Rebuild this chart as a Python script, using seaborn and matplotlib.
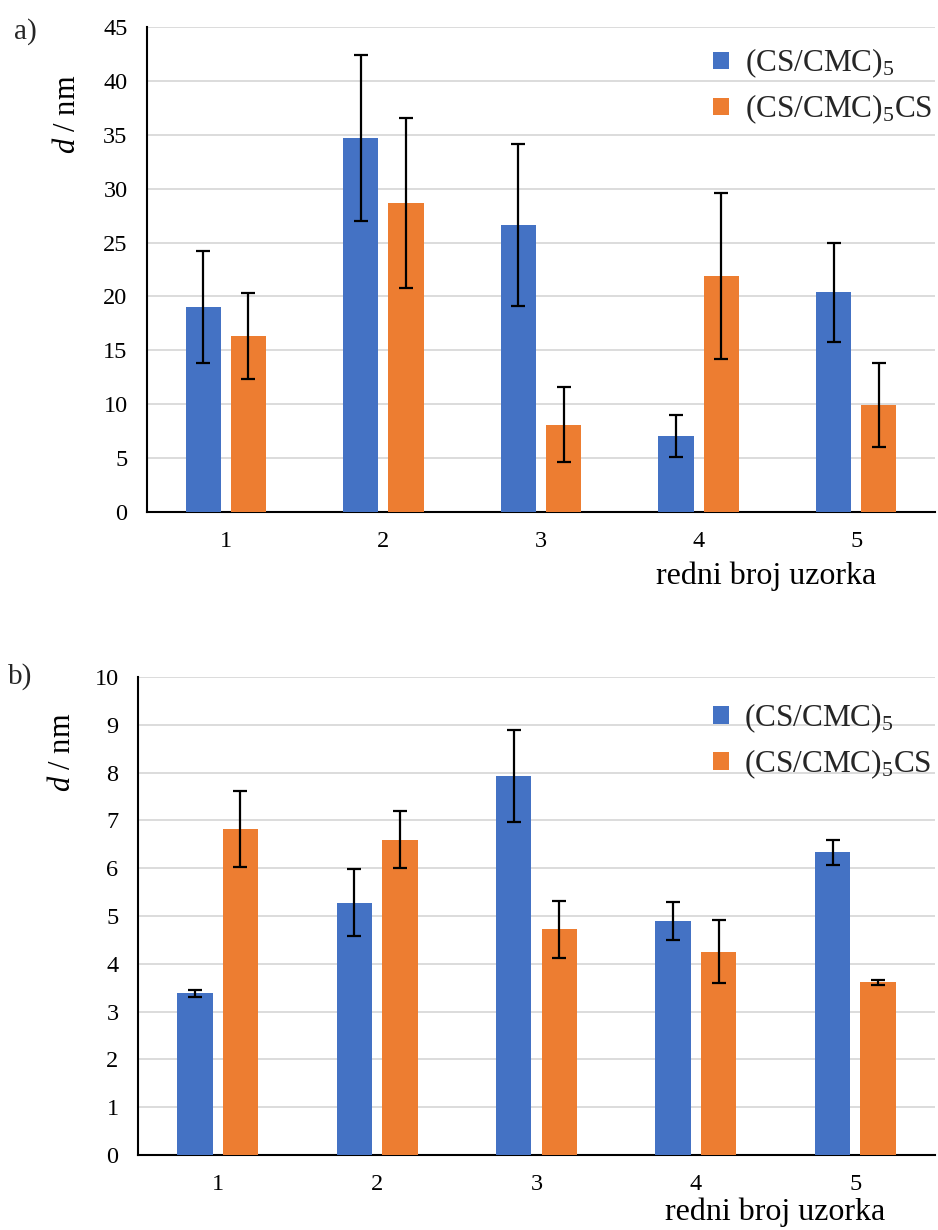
import numpy as np
import pandas as pd
import matplotlib
matplotlib.use("Agg")
import matplotlib.pyplot as plt
import seaborn as sns

# ---- data ----
samples = ["1", "2", "3", "4", "5"]
series_names = ["(CS/CMC)$_\\mathregular{5}$", "(CS/CMC)$_\\mathregular{5}$CS"]

a_cs = [19.0, 34.7, 26.6, 7.05, 20.4]
a_cs_err = [5.2, 7.7, 7.5, 1.95, 4.6]
a_cscs = [16.3, 28.7, 8.1, 21.9, 9.9]
a_cscs_err = [4.0, 7.9, 3.5, 7.7, 3.9]

b_cs = [3.38, 5.28, 7.93, 4.89, 6.33]
b_cs_err = [0.07, 0.70, 0.97, 0.40, 0.26]
b_cscs = [6.82, 6.60, 4.72, 4.25, 3.61]
b_cscs_err = [0.80, 0.60, 0.59, 0.66, 0.06]

a_yticks = [0, 5, 10, 15, 20, 25, 30, 35, 40, 45]
b_yticks = [0, 1, 2, 3, 4, 5, 6, 7, 8, 9, 10]

colors = ["#4472C4", "#ED7D31"]

sns.set_theme(style="white")
plt.rcParams["font.family"] = ["Liberation Serif", "DejaVu Serif"]
plt.rcParams["mathtext.fontset"] = "custom"
plt.rcParams["mathtext.rm"] = "Liberation Serif"
plt.rcParams["mathtext.it"] = "Liberation Serif:italic"

W, H = 938, 1230
fig = plt.figure(figsize=(W / 100, H / 100), dpi=100)


def px_axes(left, top, right, bottom):
    return fig.add_axes([left / W, 1 - bottom / H, (right - left) / W, (bottom - top) / H])


def panel(ax, v1, e1, v2, e2, yticks, label, ylab_y, ylab_x, leg_anchor, xlab_xy):
    df = pd.DataFrame({
        "sample": samples * 2,
        "d": list(v1) + list(v2),
        "series": [series_names[0]] * len(samples) + [series_names[1]] * len(samples),
    })
    sns.barplot(data=df, x="sample", y="d", hue="series", palette=colors,
                width=0.572, gap=0.22, errorbar=None, ax=ax, saturation=1,
                zorder=3, linewidth=0)
    errs = [e1, e2]
    vals = [v1, v2]
    for cont, err, val in zip(ax.containers, errs, vals):
        xs = [p.get_x() + p.get_width() / 2 for p in cont.patches]
        ax.errorbar(xs, val, yerr=err, fmt="none", ecolor="black",
                    elinewidth=1.6, capsize=5, capthick=1.6, zorder=4)
    ax.set_ylim(yticks[0], yticks[-1])
    ax.set_xlim(-0.5, len(samples) - 0.5)
    ax.set_yticks(yticks)
    ax.yaxis.grid(True, color="#d9d9d9", linewidth=1.3, zorder=0)
    ax.xaxis.grid(False)
    ax.set_axisbelow(True)
    for s in ["top", "right"]:
        ax.spines[s].set_visible(False)
    for s in ["left", "bottom"]:
        ax.spines[s].set_color("black")
        ax.spines[s].set_linewidth(1.5)
    ax.tick_params(axis="both", length=0, labelsize=17.5, colors="black")
    ax.tick_params(axis="y", pad=14)
    ax.tick_params(axis="x", pad=14)
    ax.set_xlabel("redni broj uzorka", fontsize=23, color="black")
    ax.xaxis.set_label_coords(*xlab_xy)
    ax.set_ylabel("$d$ / nm", fontsize=22, color="black")
    ax.yaxis.set_label_coords(ylab_x, ylab_y)
    handles, labels = ax.get_legend_handles_labels()
    ax.legend(handles, labels, loc="upper left", bbox_to_anchor=leg_anchor,
              frameon=False, fontsize=22.5, handlelength=0.5, handleheight=0.5,
              handletextpad=0.5, labelspacing=0.4, borderaxespad=0)
    fig.text(label[1], label[2], label[0], fontsize=21, ha="left", va="top")


ax1 = px_axes(147, 27, 935, 512)
panel(ax1, a_cs, a_cs_err, a_cscs, a_cscs_err, a_yticks,
      ("a)", 14 / W, 1 - 18 / H), 0.82, -0.083, (0.703, 0.985), (0.786, -0.102))

ax2 = px_axes(138, 677, 935, 1155)
panel(ax2, b_cs, b_cs_err, b_cscs, b_cscs_err, b_yticks,
      ("b)", 8 / W, 1 - 663 / H), 0.843, -0.077, (0.706, 0.975), (0.80, -0.088))

fig.savefig("out.png", dpi=100)
